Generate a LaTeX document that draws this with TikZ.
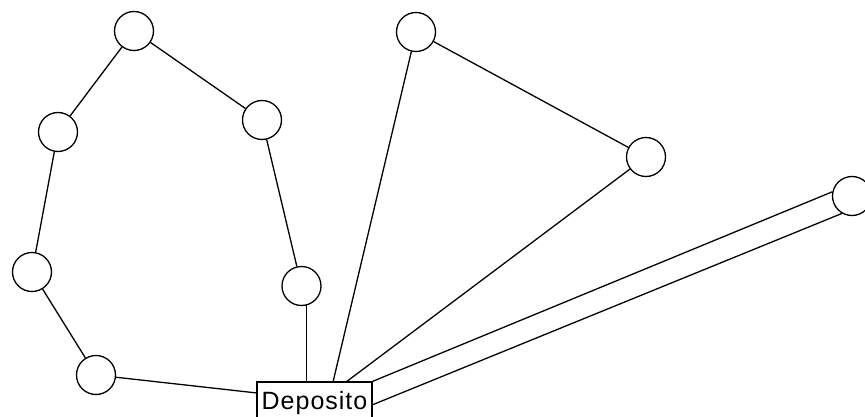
\documentclass[tikz,border=0pt]{standalone}
\usepackage{fontspec}
\setmainfont[LetterSpace=4]{Liberation Sans}
\begin{document}
\begin{tikzpicture}[x=1pt,y=-1pt,line width=1.3pt,
  cust/.style={circle,draw,minimum size=39pt,inner sep=0pt},
  depot/.style={rectangle,draw,minimum width=115pt,minimum height=37pt,inner sep=0pt,text depth=0pt,font=\fontsize{25}{25}\selectfont}]
\useasboundingbox (0,0) rectangle (865,417);
\clip (0,0) rectangle (865,417);
\fill[white] (0,0) rectangle (865,417);
% customers
\node[cust] (c1) at (96,375) {};
\node[cust] (c2) at (32,272) {};
\node[cust] (c3) at (58,132) {};
\node[cust] (c4) at (134,31) {};
\node[cust] (c5) at (262,120) {};
\node[cust] (c6) at (301.5,286) {};
\node[cust] (c7) at (416,32) {};
\node[cust] (c8) at (646,157) {};
\node[cust] (c9) at (852,196) {};
% depot
\node[depot] (dep) at (314.5,400.5) {Deposito};
\coordinate (d1) at (257,393);
\coordinate (d7) at (333,382);
\coordinate (d8) at (346,382);
\coordinate (d9b) at (372,405);
% route 1
\draw (d1) -- (c1);
\draw (c1) -- (c2);
\draw (c2) -- (c3);
\draw (c3) -- (c4);
\draw (c4) -- (c5);
\draw (c5) -- (c6);
\draw (c6.-75) -- (c6.-75 |- dep.north);
% route 2
\draw (d7) -- (c7);
\draw (c7) -- (c8);
\draw (c8) -- (d8);
% route 3
\draw (dep.north east) -- (c9.168);
\draw (d9b) -- (c9.240);
\end{tikzpicture}
\end{document}
